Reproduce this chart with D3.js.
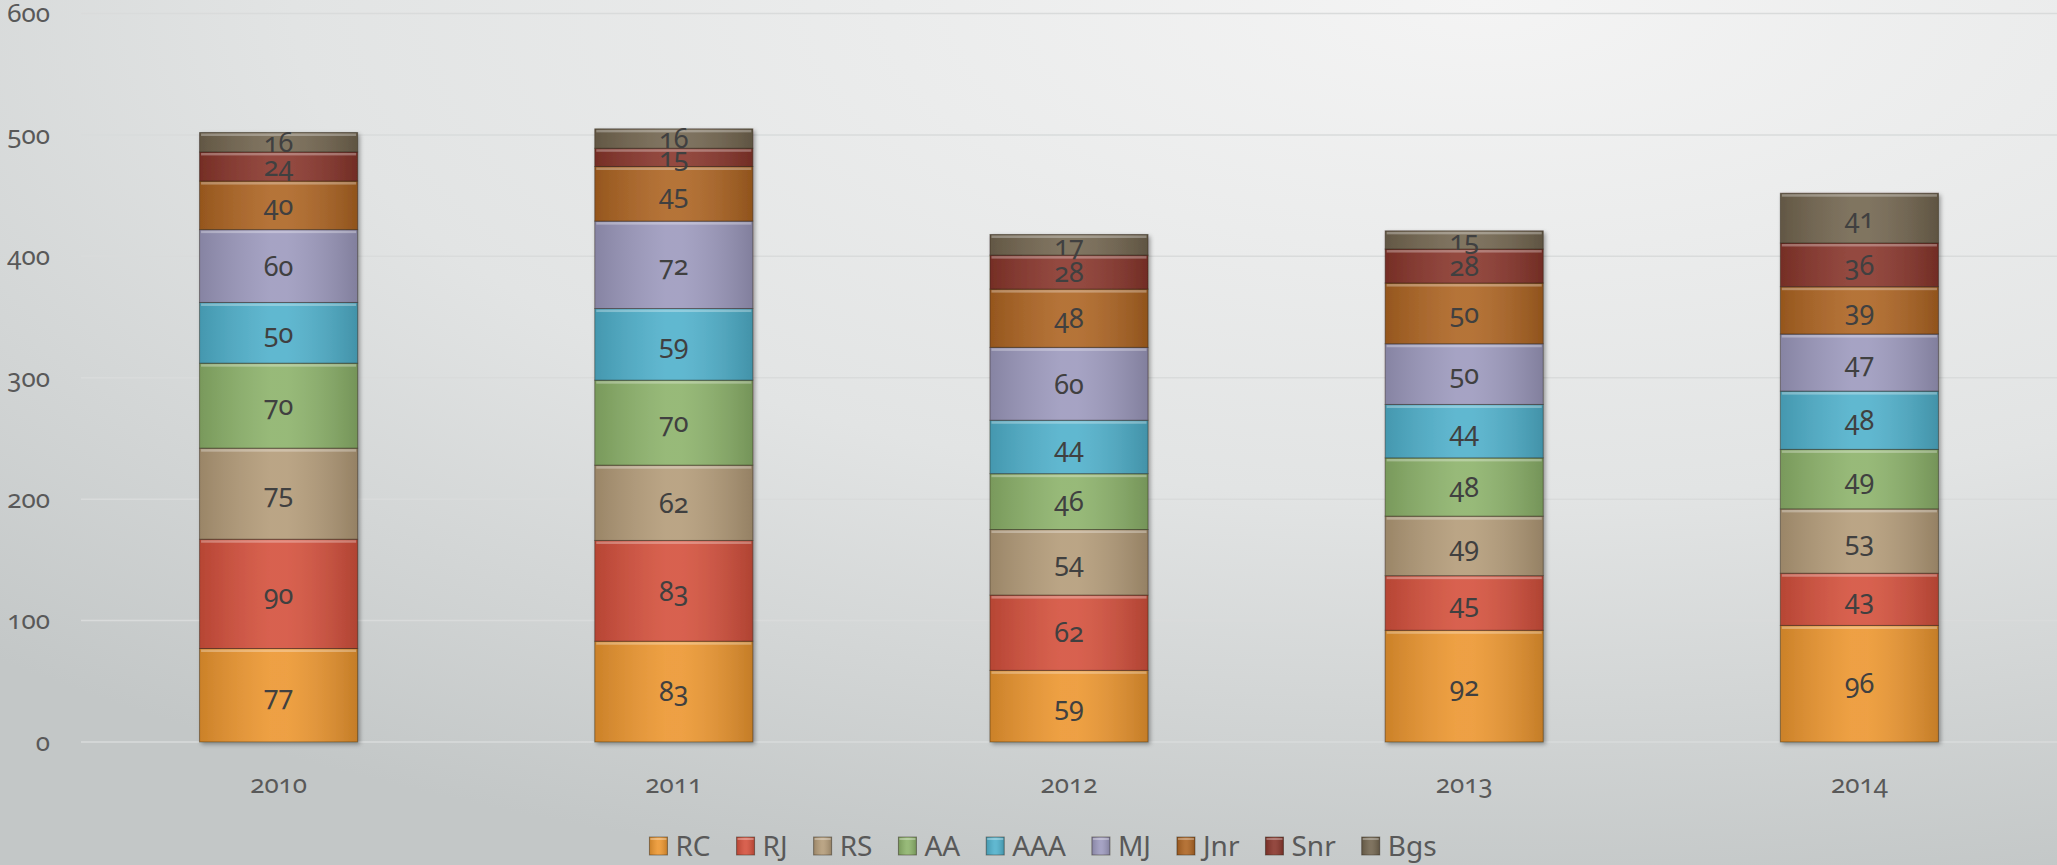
<!DOCTYPE html>
<html lang="en">
<head>
    <meta charset="UTF-8">
    <title>Stacked columns</title>
    <script src="https://cdnjs.cloudflare.com/ajax/libs/d3/7.8.5/d3.min.js"></script>
    <style>
        body {
            margin: 0;
            font-family: "Noto Sans", "Open Sans", sans-serif;
        }
        text {
            font-family: "Noto Sans", "Open Sans", sans-serif;
            font-variant-numeric: oldstyle-nums;
        }
        .axis path {
            display: none;
        }
        .axis text {
            font-size: 26px;
            fill: #595959;
        }
        .label {
            font-size: 27px;
            fill: #404040;
        }
        .legend text {
            font-size: 28px;
            fill: #595959;
        }
    </style>
</head>
<body>
<script>
    var years = ["2010", "2011", "2012", "2013", "2014"];
    var seriesNames = ["RC", "RJ", "RS", "AA", "AAA", "MJ", "Jnr", "Snr", "Bgs"];
    var colors = ["#ec962f", "#d4503c", "#b39b78", "#8cb26a", "#4fb0cb", "#9c99bd", "#ad6422", "#88352b", "#72654f"];

    var RC  = [77, 83, 59, 92, 96];
    var RJ  = [90, 83, 62, 45, 43];
    var RS  = [75, 62, 54, 49, 53];
    var AA  = [70, 70, 46, 48, 49];
    var AAA = [50, 59, 44, 44, 48];
    var MJ  = [60, 72, 60, 50, 47];
    var Jnr = [40, 45, 48, 50, 39];
    var Snr = [24, 15, 28, 28, 36];
    var Bgs = [16, 16, 17, 15, 41];
    var yTicks = [0, 100, 200, 300, 400, 500, 600];

    var seriesValues = [RC, RJ, RS, AA, AAA, MJ, Jnr, Snr, Bgs];

    // rows for d3.stack
    var rows = years.map(function (yr, i) {
        var r = {year: yr};
        seriesNames.forEach(function (s, j) {
            r[s] = seriesValues[j][i];
        });
        return r;
    });

    var layers = d3.stack().keys(seriesNames)(rows);

    var width = 2057,
        height = 865,
        plotLeft = 81,
        plotRight = 2057,
        plotTop = 13.5,
        plotBottom = 742;

    var svg = d3.select("body").append("svg")
        .attr("width", width)
        .attr("height", height);

    var defs = svg.append("defs");

    var bg = defs.append("radialGradient")
        .attr("id", "bg")
        .attr("cx", "0.72").attr("cy", "0")
        .attr("r", "1.05");
    bg.append("stop").attr("offset", "0%").attr("stop-color", "#f4f4f4");
    bg.append("stop").attr("offset", "55%").attr("stop-color", "#e2e4e4");
    bg.append("stop").attr("offset", "100%").attr("stop-color", "#c3c7c7");

    var shade = defs.append("linearGradient")
        .attr("id", "shade")
        .attr("x1", "0").attr("x2", "1").attr("y1", "0").attr("y2", "0");
    shade.append("stop").attr("offset", "0%").attr("stop-color", "#000").attr("stop-opacity", 0.14);
    shade.append("stop").attr("offset", "45%").attr("stop-color", "#fff").attr("stop-opacity", 0.1);
    shade.append("stop").attr("offset", "55%").attr("stop-color", "#fff").attr("stop-opacity", 0.1);
    shade.append("stop").attr("offset", "100%").attr("stop-color", "#000").attr("stop-opacity", 0.17);

    var shadow = defs.append("filter")
        .attr("id", "shadow")
        .attr("x", "-10%").attr("y", "-10%")
        .attr("width", "130%").attr("height", "130%");
    shadow.append("feDropShadow")
        .attr("dx", 2).attr("dy", 2)
        .attr("stdDeviation", 2)
        .attr("flood-color", "#000")
        .attr("flood-opacity", 0.35);

    svg.append("rect")
        .attr("width", width)
        .attr("height", height)
        .attr("fill", "url(#bg)");

    var x = d3.scaleBand()
        .domain(years)
        .range([plotLeft, plotRight])
        .paddingInner(0.6)
        .paddingOuter(0.3);

    var y = d3.scaleLinear()
        .domain([0, 600])
        .range([plotBottom, plotTop]);

    // gridlines
    svg.append("g")
        .selectAll("line")
        .data(yTicks)
        .enter().append("line")
        .attr("x1", plotLeft)
        .attr("x2", plotRight)
        .attr("y1", function (d) { return y(d); })
        .attr("y2", function (d) { return y(d); })
        .attr("stroke", "#d9dbdb")
        .attr("stroke-width", 1.5);

    // y axis labels
    svg.append("g")
        .attr("class", "axis")
        .attr("transform", "translate(" + plotLeft + ",0)")
        .call(d3.axisLeft(y).tickValues(yTicks).tickSize(0).tickPadding(31));

    // x axis labels
    svg.append("g")
        .attr("class", "axis")
        .attr("transform", "translate(0," + plotBottom + ")")
        .call(d3.axisBottom(x).tickSize(0).tickPadding(33));

    // bars
    var barsG = svg.append("g").attr("filter", "url(#shadow)");

    var layer = barsG.selectAll(".layer")
        .data(layers)
        .enter().append("g")
        .attr("class", "layer");

    var seg = layer.selectAll("g")
        .data(function (d) {
            return d.map(function (p) { return {p: p, key: d.key, idx: d.index}; });
        })
        .enter().append("g");

    seg.append("rect")
        .attr("x", function (d) { return x(d.p.data.year); })
        .attr("y", function (d) { return y(d.p[1]); })
        .attr("width", x.bandwidth())
        .attr("height", function (d) { return y(d.p[0]) - y(d.p[1]); })
        .attr("fill", function (d) { return colors[d.idx]; });

    seg.append("rect")
        .attr("x", function (d) { return x(d.p.data.year); })
        .attr("y", function (d) { return y(d.p[1]); })
        .attr("width", x.bandwidth())
        .attr("height", function (d) { return y(d.p[0]) - y(d.p[1]); })
        .attr("fill", "url(#shade)")
        .attr("stroke", "rgba(40,30,20,0.45)")
        .attr("stroke-width", 1);

    // top highlight of each segment
    seg.append("rect")
        .attr("x", function (d) { return x(d.p.data.year) + 1.5; })
        .attr("y", function (d) { return y(d.p[1]) + 1; })
        .attr("width", x.bandwidth() - 3)
        .attr("height", 2.5)
        .attr("fill", "#fff")
        .attr("fill-opacity", 0.3);

    // labels
    svg.append("g").selectAll("g")
        .data(layers)
        .enter().append("g")
        .selectAll("text")
        .data(function (d) { return d; })
        .enter().append("text")
        .attr("class", "label")
        .attr("text-anchor", "middle")
        .attr("x", function (d) { return x(d.data.year) + x.bandwidth() / 2; })
        .attr("y", function (d) { return (y(d[0]) + y(d[1])) / 2; })
        .attr("dy", "0.36em")
        .text(function (d) { return d[1] - d[0]; });

    // legend
    var legend = svg.append("g").attr("class", "legend");
    var items = legend.selectAll("g")
        .data(seriesNames)
        .enter().append("g");

    items.append("rect")
        .attr("x", 0).attr("y", -9)
        .attr("width", 18).attr("height", 18)
        .attr("fill", function (d, i) { return colors[i]; })
        .attr("stroke", "rgba(40,30,20,0.45)");
    items.append("rect")
        .attr("x", 0).attr("y", -9)
        .attr("width", 18).attr("height", 18)
        .attr("fill", "url(#shade)");
    items.append("rect")
        .attr("x", 1).attr("y", -8)
        .attr("width", 16).attr("height", 2)
        .attr("fill", "#fff").attr("fill-opacity", 0.3);

    items.append("text")
        .attr("x", 26)
        .attr("dy", "0.36em")
        .text(function (d) { return d; });

    var pos = 0, offsets = [];
    items.each(function () {
        offsets.push(pos);
        var w = d3.select(this).select("text").node().getComputedTextLength();
        pos += 26 + w + 26;
    });
    var totalW = pos - 26;
    var startX = 1043 - totalW / 2;
    items.attr("transform", function (d, i) {
        return "translate(" + (startX + offsets[i]) + ",846)";
    });
</script>
</body>
</html>
